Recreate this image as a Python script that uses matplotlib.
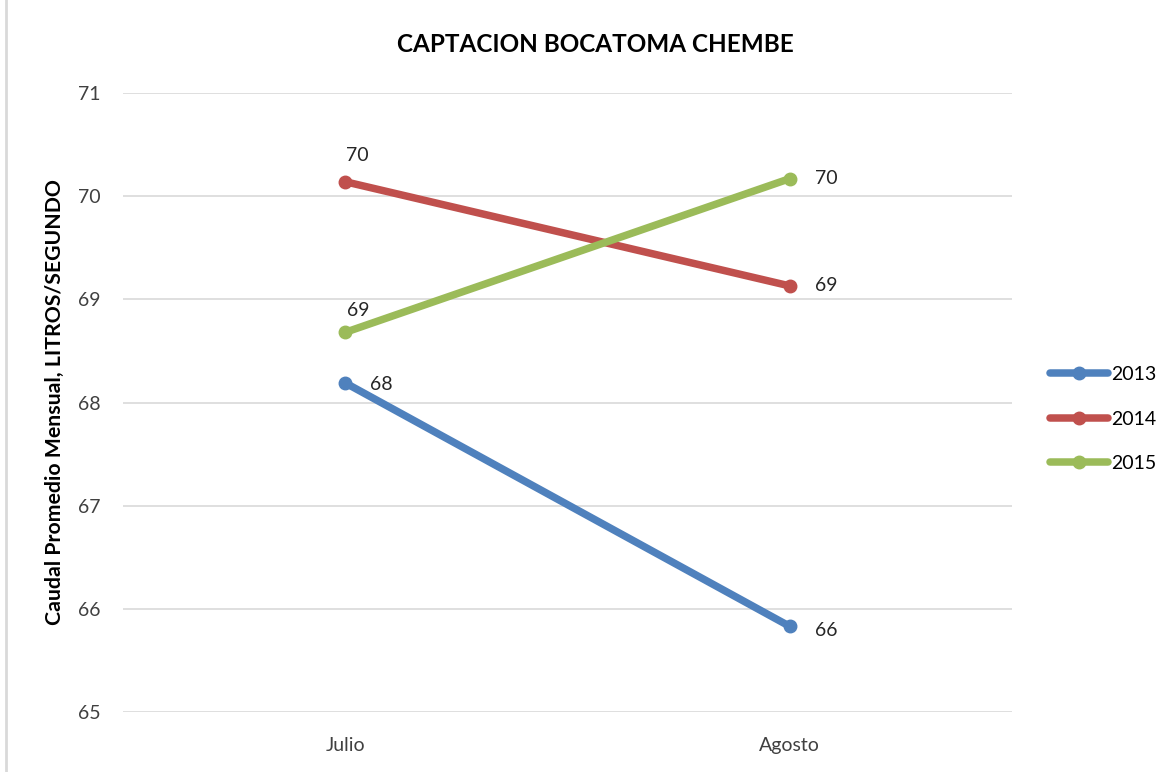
import matplotlib.pyplot as plt
from matplotlib.lines import Line2D

months = ["Julio", "Agosto"]
years = ["2013", "2014", "2015"]
caudal_2013 = [68.19, 65.83]
caudal_2014 = [70.14, 69.13]
caudal_2015 = [68.68, 70.17]
series = [caudal_2013, caudal_2014, caudal_2015]
colors = ["#4F81BD", "#C0504D", "#9BBB59"]

plt.rcParams['font.family'] = ['Lato', 'DejaVu Sans']

fig = plt.figure(figsize=(11.76, 7.72), dpi=100)
ax = fig.add_axes([123/1176, 1 - 712/772, (1012 - 123)/1176, (712 - 93)/772])

x = list(range(len(months)))
for yr, vals, c in zip(years, series, colors):
    ax.plot(x, vals, color=c, lw=5.4, marker='o', markersize=9,
            solid_capstyle='round', label=yr, zorder=3)

# etiquetas de datos: (dx, dy) en puntos
offsets = {
    ("2013", 0): (18, -1), ("2013", 1): (18, -3),
    ("2014", 0): (9, 19), ("2014", 1): (18, 0),
    ("2015", 0): (9, 16), ("2015", 1): (18, 0),
}
for yr, vals in zip(years, series):
    for i, v in enumerate(vals):
        dx, dy = offsets[(yr, i)]
        ax.annotate(f"{round(v):d}", (i, v), xytext=(dx, dy),
                    textcoords='offset points', fontsize=14,
                    ha='left' if dx > 10 else 'center',
                    va='center', color='#262626')

ax.set_xlim(-0.5, 1.5)
ax.set_ylim(65, 71)
ax.set_yticks(range(65, 72))
ax.set_xticks(x)
ax.set_xticklabels(months)
ax.tick_params(length=0, labelsize=14, colors='#404040')
ax.tick_params(axis='x', pad=18)
ax.tick_params(axis='y', pad=16)
ax.grid(axis='y', color='#D9D9D9', lw=1.2)
ax.set_axisbelow(True)
for s in ax.spines.values():
    s.set_visible(False)

ax.set_ylabel("Caudal Promedio Mensual, LITROS/SEGUNDO", fontsize=15.3,
              fontweight='bold')
ax.yaxis.set_label_coords(-58/889, 0.5)
fig.text(595/1176, 1 - 45/772, "CAPTACION BOCATOMA CHEMBE", ha='center',
         va='center', fontsize=17.5, fontweight='bold')

handles = [Line2D([0], [0], color=c, lw=5.4, marker='o', markersize=9,
                  solid_capstyle='round') for c in colors]
fig.legend(handles, years, loc='center left',
           bbox_to_anchor=(1050/1176, 1 - 419/772), frameon=False,
           fontsize=14, handlelength=3.0, handletextpad=0.15,
           labelspacing=1.4, borderaxespad=0, borderpad=0)

fig.add_artist(Line2D([6/1176, 6/1176], [0, 1], color='#D9D9D9', lw=2,
                      transform=fig.transFigure))

fig.savefig("out.png", dpi=100)
